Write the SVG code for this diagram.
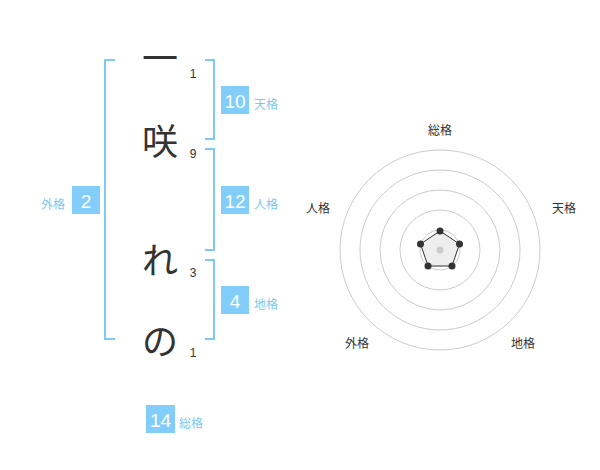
<svg xmlns="http://www.w3.org/2000/svg" width="600" height="470" viewBox="0 0 600 470">
<style>
.big{font-family:"Noto Sans CJK JP","Noto Sans",sans-serif;font-size:36px;fill:#333;text-anchor:middle}
.num{font-family:"Liberation Sans",Arial,sans-serif;font-size:12px;fill:#333;text-anchor:middle}
.br{fill:none;stroke:#80c9f5;stroke-width:2}
.box{fill:#82cdf9}
.bv{font-family:"Liberation Sans",Arial,sans-serif;font-size:19px;fill:#fff;text-anchor:middle}
.lb{font-family:"Noto Sans CJK JP",sans-serif;font-size:12px;fill:#7fc7f0}
.rl{font-family:"Noto Sans CJK JP",sans-serif;font-size:12px;fill:#333;text-anchor:middle}
.ring{fill:none;stroke:#ccc;stroke-width:1}
</style>
<g id="name">
<text class="big" x="160" y="72">一</text>
<text class="big" x="160" y="155">咲</text>
<text class="big" x="160" y="274">れ</text>
<text class="big" x="160" y="355">の</text>
<text class="num" x="193" y="78">1</text>
<text class="num" x="193" y="158">9</text>
<text class="num" x="193" y="277">3</text>
<text class="num" x="193" y="357">1</text>
</g>
<g id="brackets">
<path class="br" d="M115,60 H105 V339 H115"/>
<path class="br" d="M205,60 H214 V139 H205"/>
<path class="br" d="M205,149 H214 V250 H205"/>
<path class="br" d="M205,260 H214 V339 H205"/>
</g>
<g id="tenkaku">
<rect class="box" x="221" y="86" width="28" height="28"/>
<text class="bv" x="235" y="108">10</text>
<text class="lb" x="254" y="109">天格</text>
</g>
<g id="jinkaku">
<rect class="box" x="221" y="186" width="28" height="28"/>
<text class="bv" x="235" y="208">12</text>
<text class="lb" x="254" y="209">人格</text>
</g>
<g id="chikaku">
<rect class="box" x="221" y="286" width="28" height="28"/>
<text class="bv" x="235" y="308">4</text>
<text class="lb" x="254" y="309">地格</text>
</g>
<g id="gaikaku">
<rect class="box" x="72" y="186" width="28" height="28"/>
<text class="bv" x="86" y="208">2</text>
<text class="lb" x="41" y="209">外格</text>
</g>
<g id="soukaku">
<rect class="box" x="146" y="405" width="29" height="28"/>
<text class="bv" x="160.5" y="427">14</text>
<text class="lb" x="179" y="428">総格</text>
</g>
<g id="radar">
<circle class="ring" cx="440" cy="250" r="100"/>
<circle class="ring" cx="440" cy="250" r="80"/>
<circle class="ring" cx="440" cy="250" r="60"/>
<circle class="ring" cx="440" cy="250" r="40"/>
<circle class="ring" cx="440" cy="250" r="20"/>
<polygon points="440,231 459.5,244 452,266 428,266 420.5,244" fill="#eee" stroke="#333" stroke-width="1"/>
<circle cx="440" cy="250" r="3.5" fill="#ccc"/>
<g fill="#333">
<circle cx="440" cy="231" r="3.5"/>
<circle cx="459.5" cy="244" r="3.5"/>
<circle cx="452" cy="266" r="3.5"/>
<circle cx="428" cy="266" r="3.5"/>
<circle cx="420.5" cy="244" r="3.5"/>
</g>
<text class="rl" x="440" y="135">総格</text>
<text class="rl" x="564" y="213">天格</text>
<text class="rl" x="523" y="348">地格</text>
<text class="rl" x="357" y="348">外格</text>
<text class="rl" x="318" y="213">人格</text>
</g>
</svg>
